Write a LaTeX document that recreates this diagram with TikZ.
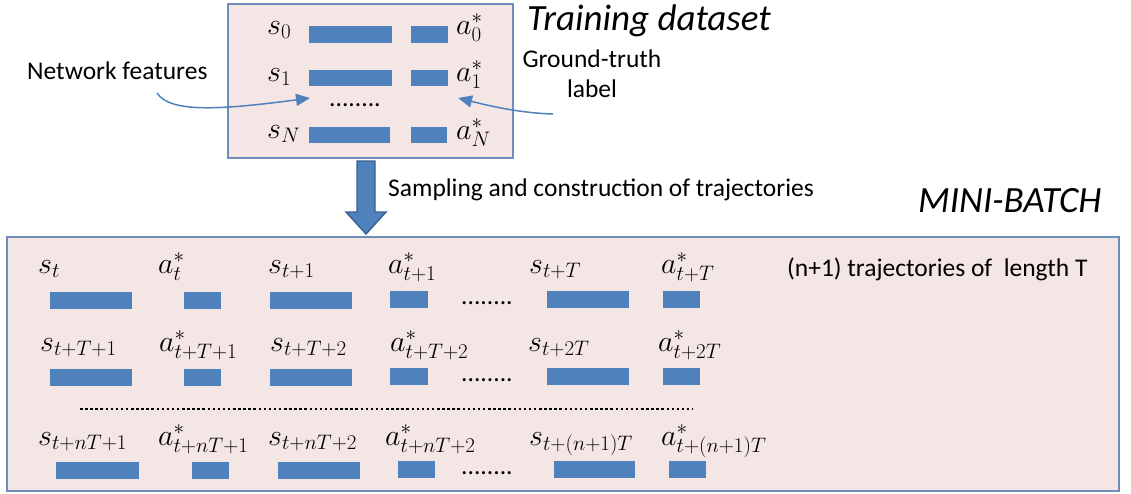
\RequirePackage{fix-cm}
\documentclass[tikz,border=0pt]{standalone}
\usepackage{fontspec}
\setmainfont{Carlito}
\usetikzlibrary{arrows.meta,calc}

\definecolor{panelfill}{HTML}{F5E6E6}
\definecolor{panelline}{HTML}{6F8DB9}
\definecolor{barblue}{HTML}{4F81BD}
\definecolor{flowedge}{HTML}{3A5F8E}

\newcommand{\txtsz}{\fontsize{25.5}{30}\selectfont}
\newcommand{\mathsz}{\fontsize{30}{34}\selectfont}
\newcommand{\titlesz}{\fontsize{37}{44}\selectfont\itshape}

\begin{document}
\begin{tikzpicture}[x=1pt,y=-1pt,
  panel/.style={draw=panelline, line width=1.5pt, fill=panelfill, inner sep=0pt, anchor=north west},
  bar/.style={fill=barblue, inner sep=0pt, outer sep=0pt, minimum height=17pt, anchor=north west},
  sbar/.style={bar, minimum width=82pt},
  abar/.style={bar, minimum width=37pt},
  sym/.style={inner sep=0pt, anchor=base west, font=\mathsz},
  note/.style={inner sep=0pt, font=\txtsz, anchor=base west},
  title/.style={inner sep=0pt, font=\titlesz, anchor=base west},
  pointer/.style={draw=barblue, line width=1.5pt, -{Triangle[length=14pt,width=12pt]}},
  flowarrow/.style={fill=barblue, draw=flowedge, line width=1.4pt, line join=miter},
]
\useasboundingbox (0,0) rectangle (1131,493);

% ---------- training dataset panel ----------
\node[panel, minimum width=285pt, minimum height=154pt] (dataset) at (227,3) {};

\node[sym] (s0) at (267,34) {$s_0$};
\node[sym] (s1) at (267,81) {$s_1$};
\node[sym] (sN) at (267,138) {$s_N$};
\node[sym] (a0) at (456,34) {$a_0^*$};
\node[sym] (a1) at (456,81) {$a_1^*$};
\node[sym] (aN) at (456,139) {$a_N^*$};

\node[sbar, minimum width=83pt] (fs0) at (309,26) {};
\node[sbar, minimum width=83pt, minimum height=16pt] (fs1) at (309,70) {};
\node[sbar, minimum width=81pt, minimum height=16pt] (fsN) at (309,127) {};
\node[abar] (la0) at (411,26) {};
\node[abar, minimum height=16pt] (la1) at (411,70) {};
\node[abar, minimum width=36pt, minimum height=16pt] (laN) at (411,127) {};

\node[note] (dsdots) at (329,106) {........};

\node[title] (dstitle) at (527,30) {Training dataset};

% ---------- side labels with pointers ----------
\node[note] (nf) at (27,79) {Network features};
\node[inner sep=0pt, font=\txtsz, align=center, anchor=base] (gt) at (592,97) {Ground-truth\\label};

\coordinate (nfstart) at (157,93);
\coordinate (nftip) at (310,98);
\coordinate (gtstart) at (553,114);
\coordinate (gttip) at (458,98);
\draw[pointer] (nfstart) .. controls (170,113) and (220,110) .. (nftip);
\draw[pointer] (gtstart) .. controls (520,113) and (490,106) .. (gttip);

% ---------- sampling step ----------
\coordinate (flowtop) at (366,161);
\coordinate (flowtip) at (366,234);
\draw[flowarrow] ($(flowtop)+(-9,0)$) -- ($(flowtop)+(9,0)$) -- ($(flowtip)+(9,-22)$)
  -- ($(flowtip)+(20,-22)$) -- (flowtip) -- ($(flowtip)+(-20,-22)$)
  -- ($(flowtip)+(-9,-22)$) -- cycle;
\node[note] (sampling) at (388,196) {Sampling and construction of trajectories};

\node[title] (mbtitle) at (918,212) {MINI-BATCH};

% ---------- mini-batch panel ----------
\node[panel, minimum width=1112pt, minimum height=254pt] (minibatch) at (6,236) {};

\node[note] (ntraj) at (787,276) {(n+1) trajectories of\ \ length T};

% first trajectory
\node[sym] (r1s1) at (38,273) {$s_t$};
\node[sym] (r1a1) at (158,273) {$a_t^*$};
\node[sym] (r1s2) at (268,273) {$s_{t+1}$};
\node[sym] (r1a2) at (388,273) {$a_{t+1}^*$};
\node[sym] (r1s3) at (529,273) {$s_{t+T}$};
\node[sym] (r1a3) at (661,273) {$a_{t+T}^*$};

\node[sbar] (r1b1) at (50,292) {};
\node[abar] (r1b2) at (184,292) {};
\node[sbar] (r1b3) at (270,292) {};
\node[abar, minimum width=38pt] (r1b4) at (390,291) {};
\node[note] (r1dots) at (461,304) {........};
\node[sbar] (r1b5) at (547,291) {};
\node[abar] (r1b6) at (663,291) {};

% second trajectory
\node[sym] (r2s1) at (40,351) {$s_{t+T+1}$};
\node[sym] (r2a1) at (159,351) {$a_{t+T+1}^*$};
\node[sym] (r2s2) at (270,351) {$s_{t+T+2}$};
\node[sym] (r2a2) at (390,351) {$a_{t+T+2}^*$};
\node[sym] (r2s3) at (528,351) {$s_{t+2T}$};
\node[sym] (r2a3) at (658,351) {$a_{t+2T}^*$};

\node[sbar] (r2b1) at (50,369) {};
\node[abar] (r2b2) at (184,369) {};
\node[sbar] (r2b3) at (270,369) {};
\node[abar, minimum width=38pt] (r2b4) at (390,368) {};
\node[note] (r2dots) at (461,381) {........};
\node[sbar] (r2b5) at (547,368) {};
\node[abar] (r2b6) at (663,368) {};

% elided trajectories
\draw[line width=2.5pt, dash pattern=on 2.5pt off 2.6pt] (80,409) -- (693,409);

% last trajectory
\node[sym] (r3s1) at (38,445) {$s_{t+nT+1}$};
\node[sym] (r3a1) at (158,445) {$a_{t+nT+1}^*$};
\node[sym] (r3s2) at (268,445) {$s_{t+nT+2}$};
\node[sym] (r3a2) at (385,445) {$a_{t+nT+2}^*$};
\node[sym] (r3s3) at (529,445) {$s_{t+(n+1)T}$};
\node[sym] (r3a3) at (661,445) {$a_{t+(n+1)T}^*$};

\node[sbar, minimum width=83pt] (r3b1) at (56,462) {};
\node[abar] (r3b2) at (192,462) {};
\node[sbar] (r3b3) at (278,462) {};
\node[abar] (r3b4) at (398,461) {};
\node[note] (r3dots) at (461,474) {........};
\node[sbar, minimum width=81pt] (r3b5) at (554,461) {};
\node[abar] (r3b6) at (669,461) {};
\end{tikzpicture}
\end{document}
